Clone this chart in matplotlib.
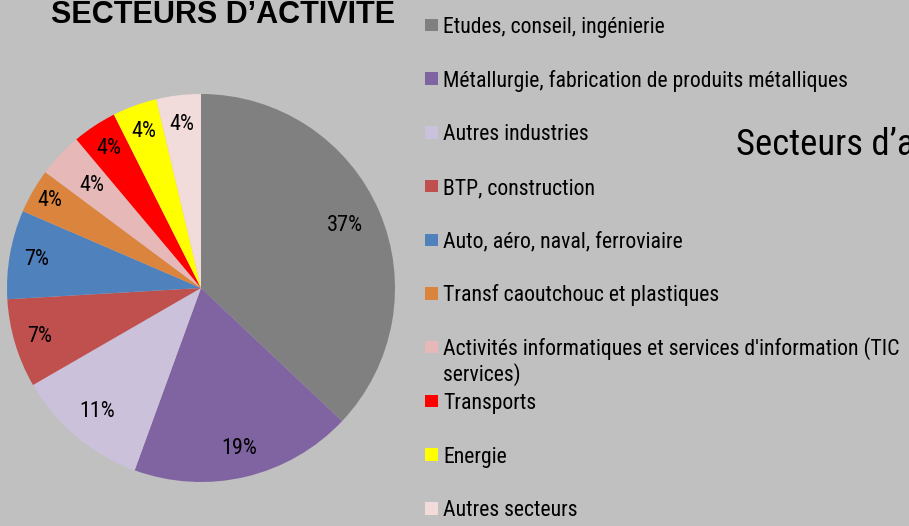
import matplotlib
matplotlib.use("Agg")
import matplotlib.pyplot as plt
from matplotlib.patches import Rectangle

plt.rcParams['font.family'] = ['Roboto Condensed', 'Liberation Sans', 'DejaVu Sans']

# Data
categories = [
    "Etudes, conseil, ingénierie",
    "Métallurgie, fabrication de produits métalliques",
    "Autres industries",
    "BTP, construction",
    "Auto, aéro, naval, ferroviaire",
    "Transf caoutchouc et plastiques",
    "Activités informatiques et services d'information (TIC\nservices)",
    "Transports",
    "Energie",
    "Autres secteurs",
]
values = [10, 5, 3, 2, 2, 1, 1, 1, 1, 1]
colors = ["#808080", "#8064A2", "#CCC1DA", "#C0504D", "#4F81BD",
          "#DB843D", "#E6B9B8", "#FF0000", "#FFFF00", "#F2DCDB"]

title = "SECTEURS D’ACTIVITE"
side_title = "Secteurs d’activité"

W, H = 909, 526
fig = plt.figure(figsize=(W / 100, H / 100), dpi=100)
fig.patch.set_facecolor("#C0C0C0")

# pie axes: center (201,288) radius 194 px
cx, cy, r = 201, 288, 194
ax = fig.add_axes([(cx - r) / W, (H - cy - r) / H, 2 * r / W, 2 * r / H])
ax.set_facecolor("none")
wedges, texts, autotexts = ax.pie(
    values, colors=colors, startangle=90, counterclock=False,
    autopct=lambda p: f"{p:.0f}%", pctdistance=0.84,
    radius=1, wedgeprops=dict(linewidth=0),
    textprops=dict(fontsize=16, color="black"))
ax.set_xlim(-1, 1)
ax.set_ylim(-1, 1)
ax.set_aspect("equal")
ax.axis("off")

# per-label radial adjustments
dists = [0.81, 0.85, 0.83, 0.87, 0.86, 0.90, 0.77, 0.86, 0.86, 0.85]
for t, d in zip(autotexts, dists):
    x, y = t.get_position()
    n = (x ** 2 + y ** 2) ** 0.5
    t.set_position((x / n * d, y / n * d))

# title
fig.text(223 / W, 1 - 15 / H, title, fontsize=22, fontweight="bold",
         ha="center", va="center", family=['Liberation Sans', 'DejaVu Sans'])

# legend (manual)
y0, dy = 25, 53.7
sq = 12.5
fs = 15.7
line_px = fs * 100 / 72 * 1.18
for i, (lab, col) in enumerate(zip(categories, colors)):
    yc = y0 + i * dy
    fig.patches.append(Rectangle((425 / W, 1 - (yc + sq / 2) / H), sq / W, sq / H,
                                 transform=fig.transFigure, facecolor=col,
                                 edgecolor="none"))
    extra = lab.count("\n") * line_px
    fig.text(443 / W, 1 - (yc + 8 + extra) / H, lab, fontsize=fs, ha="left",
             va="baseline", linespacing=1.18)

fig.text(736 / W, 1 - 155 / H, side_title, fontsize=26.5, ha="left",
         va="baseline")

fig.savefig("out.png", dpi=100, facecolor=fig.get_facecolor())
